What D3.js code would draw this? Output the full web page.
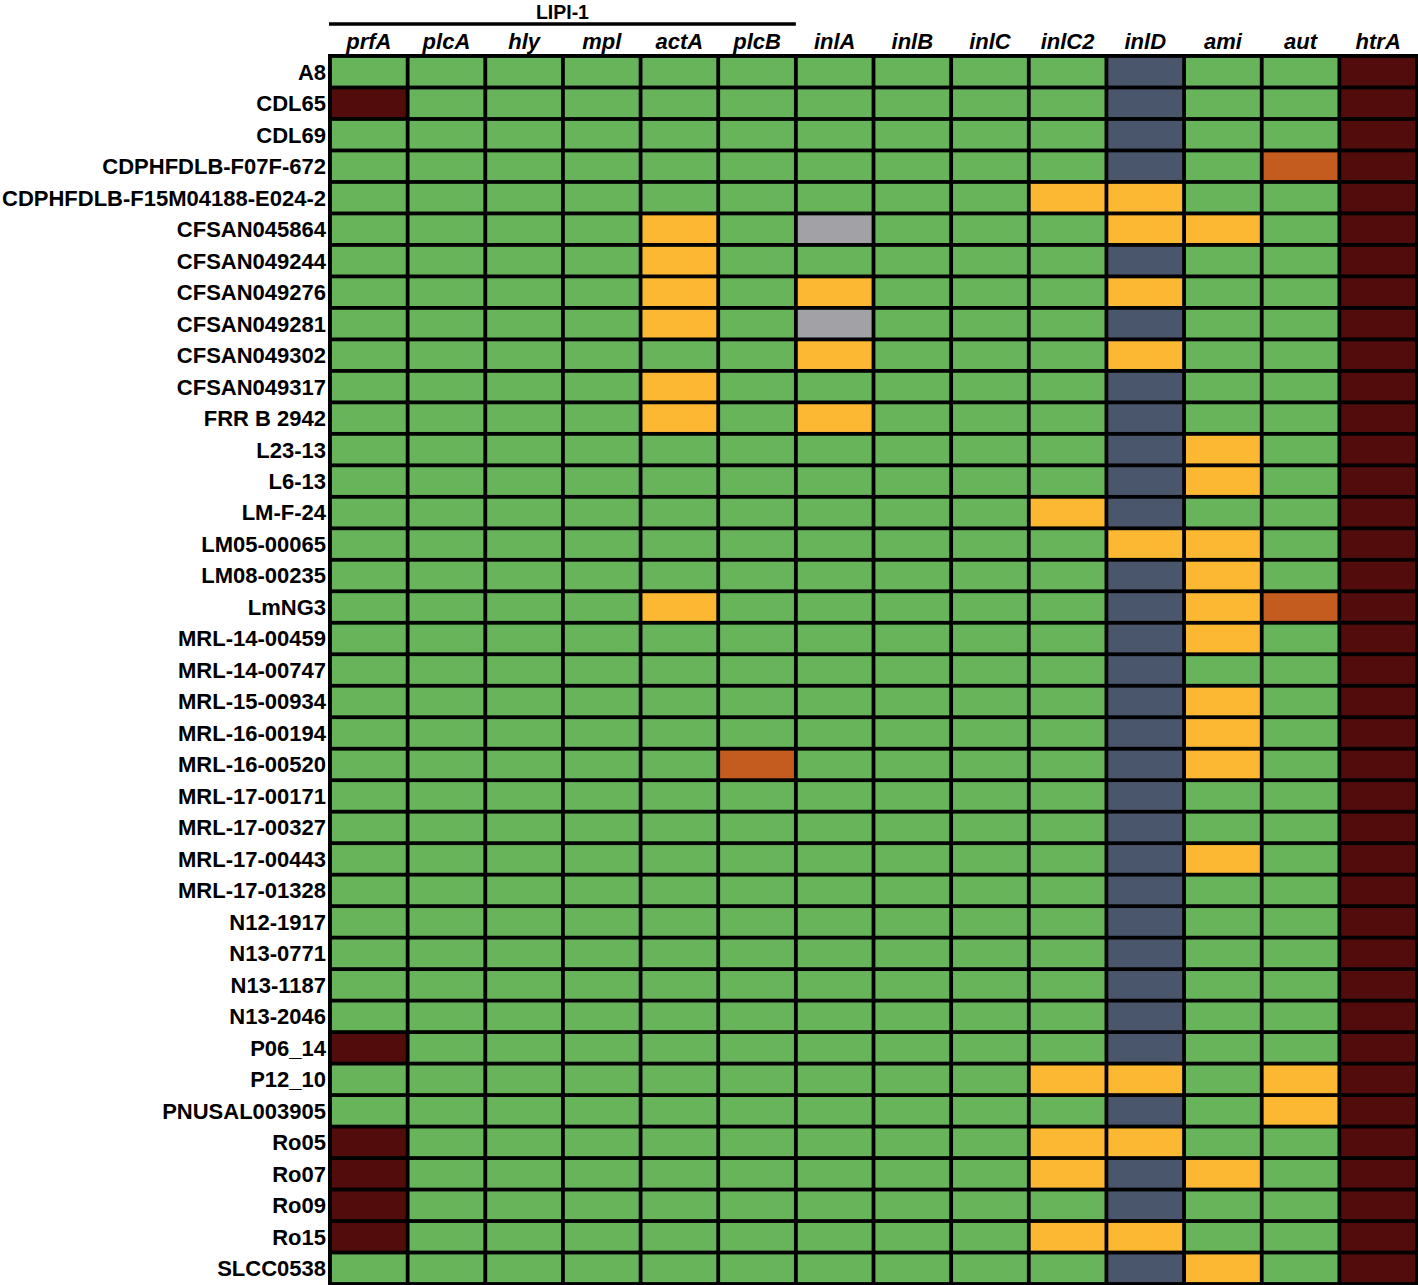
<!DOCTYPE html>
<html>
<head>
<meta charset="utf-8">
<script src="https://cdn.jsdelivr.net/npm/d3@7"></script>
<style>
  html, body { margin: 0; padding: 0; background: #fff; }
  svg { display: block; }
  text { font-family: "Liberation Sans", Arial, sans-serif; font-weight: bold; fill: #000; }
</style>
</head>
<body>
<svg id="chart" width="1418" height="1285"></svg>
<script>
// Genes (columns)
const genes = ["prfA","plcA","hly","mpl","actA","plcB","inlA","inlB","inlC","inlC2","inlD","ami","aut","htrA"];
// Gene group shown above the header
const groupLabel = "LIPI-1";
const groupGenes = ["prfA","plcA","hly","mpl","actA","plcB"];
// Strains (rows)
const strains = ["A8","CDL65","CDL69","CDPHFDLB-F07F-672","CDPHFDLB-F15M04188-E024-2","CFSAN045864","CFSAN049244","CFSAN049276","CFSAN049281","CFSAN049302","CFSAN049317","FRR B 2942","L23-13","L6-13","LM-F-24","LM05-00065","LM08-00235","LmNG3","MRL-14-00459","MRL-14-00747","MRL-15-00934","MRL-16-00194","MRL-16-00520","MRL-17-00171","MRL-17-00327","MRL-17-00443","MRL-17-01328","N12-1917","N13-0771","N13-1187","N13-2046","P06_14","P12_10","PNUSAL003905","Ro05","Ro07","Ro09","Ro15","SLCC0538"];
// Status codes per strain, one character per gene in the order above
// G = green, N = slate, Y = yellow, O = orange, M = maroon, S = grey
const status = [
  "GGGGGGGGGGNGGM", // A8
  "MGGGGGGGGGNGGM", // CDL65
  "GGGGGGGGGGNGGM", // CDL69
  "GGGGGGGGGGNGOM", // CDPHFDLB-F07F-672
  "GGGGGGGGGYYGGM", // CDPHFDLB-F15M04188-E024-2
  "GGGGYGSGGGYYGM", // CFSAN045864
  "GGGGYGGGGGNGGM", // CFSAN049244
  "GGGGYGYGGGYGGM", // CFSAN049276
  "GGGGYGSGGGNGGM", // CFSAN049281
  "GGGGGGYGGGYGGM", // CFSAN049302
  "GGGGYGGGGGNGGM", // CFSAN049317
  "GGGGYGYGGGNGGM", // FRR B 2942
  "GGGGGGGGGGNYGM", // L23-13
  "GGGGGGGGGGNYGM", // L6-13
  "GGGGGGGGGYNGGM", // LM-F-24
  "GGGGGGGGGGYYGM", // LM05-00065
  "GGGGGGGGGGNYGM", // LM08-00235
  "GGGGYGGGGGNYOM", // LmNG3
  "GGGGGGGGGGNYGM", // MRL-14-00459
  "GGGGGGGGGGNGGM", // MRL-14-00747
  "GGGGGGGGGGNYGM", // MRL-15-00934
  "GGGGGGGGGGNYGM", // MRL-16-00194
  "GGGGGOGGGGNYGM", // MRL-16-00520
  "GGGGGGGGGGNGGM", // MRL-17-00171
  "GGGGGGGGGGNGGM", // MRL-17-00327
  "GGGGGGGGGGNYGM", // MRL-17-00443
  "GGGGGGGGGGNGGM", // MRL-17-01328
  "GGGGGGGGGGNGGM", // N12-1917
  "GGGGGGGGGGNGGM", // N13-0771
  "GGGGGGGGGGNGGM", // N13-1187
  "GGGGGGGGGGNGGM", // N13-2046
  "MGGGGGGGGGNGGM", // P06_14
  "GGGGGGGGGYYGYM", // P12_10
  "GGGGGGGGGGNGYM", // PNUSAL003905
  "MGGGGGGGGYYGGM", // Ro05
  "MGGGGGGGGYNYGM", // Ro07
  "MGGGGGGGGGNGGM", // Ro09
  "MGGGGGGGGYYGGM", // Ro15
  "GGGGGGGGGGNYGM"  // SLCC0538
];
const statusCodes = ["G","N","Y","O","M","S"];
const statusColors = ["#67b45b","#4a566c","#fcb832","#c45b1f","#520c0c","#a1a1a6"];

const svg = d3.select("#chart");
const gLeft = 330, gRight = 1417, gTop = 56, gBottom = 1284;

const x = d3.scaleBand().domain(genes).range([gLeft, gRight]).padding(0);
const y = d3.scaleBand().domain(strains).range([gTop, gBottom]).padding(0);
const color = d3.scaleOrdinal().domain(statusCodes).range(statusColors);

const cells = [];
strains.forEach((s, i) => {
  genes.forEach((g, j) => cells.push({strain: s, gene: g, code: status[i][j]}));
});

// black background acting as grid lines
svg.append("rect")
  .attr("x", gLeft - 2).attr("y", gTop - 2)
  .attr("width", gRight - gLeft + 3).attr("height", gBottom - gTop + 3)
  .attr("fill", "#000");

const gap = 1.9;
svg.append("g").selectAll("rect").data(cells).join("rect")
  .attr("x", d => x(d.gene) + gap)
  .attr("y", d => y(d.strain) + gap)
  .attr("width", x.bandwidth() - 2 * gap)
  .attr("height", y.bandwidth() - 2 * gap)
  .attr("fill", d => color(d.code));

// column headers
svg.append("g").selectAll("text").data(genes).join("text")
  .attr("x", d => x(d) + x.bandwidth() / 2)
  .attr("y", 49)
  .attr("text-anchor", "middle")
  .style("font-style", "italic")
  .style("font-size", "22px")
  .text(d => d);

// row labels
svg.append("g").selectAll("text").data(strains).join("text")
  .attr("x", 326)
  .attr("y", d => y(d) + y.bandwidth() / 2)
  .attr("dy", "0.36em")
  .attr("text-anchor", "end")
  .style("font-size", "22px")
  .text(d => d);

// group bracket
const gx0 = x(groupGenes[0]) - 1;
const gx1 = x(groupGenes[groupGenes.length - 1]) + x.bandwidth();
svg.append("line")
  .attr("x1", gx0).attr("x2", gx1)
  .attr("y1", 24).attr("y2", 24)
  .attr("stroke", "#000").attr("stroke-width", 3.5);
svg.append("text")
  .attr("x", (gx0 + gx1) / 2)
  .attr("y", 18.5)
  .attr("text-anchor", "middle")
  .style("font-size", "19.5px")
  .text(groupLabel);
</script>
</body>
</html>
